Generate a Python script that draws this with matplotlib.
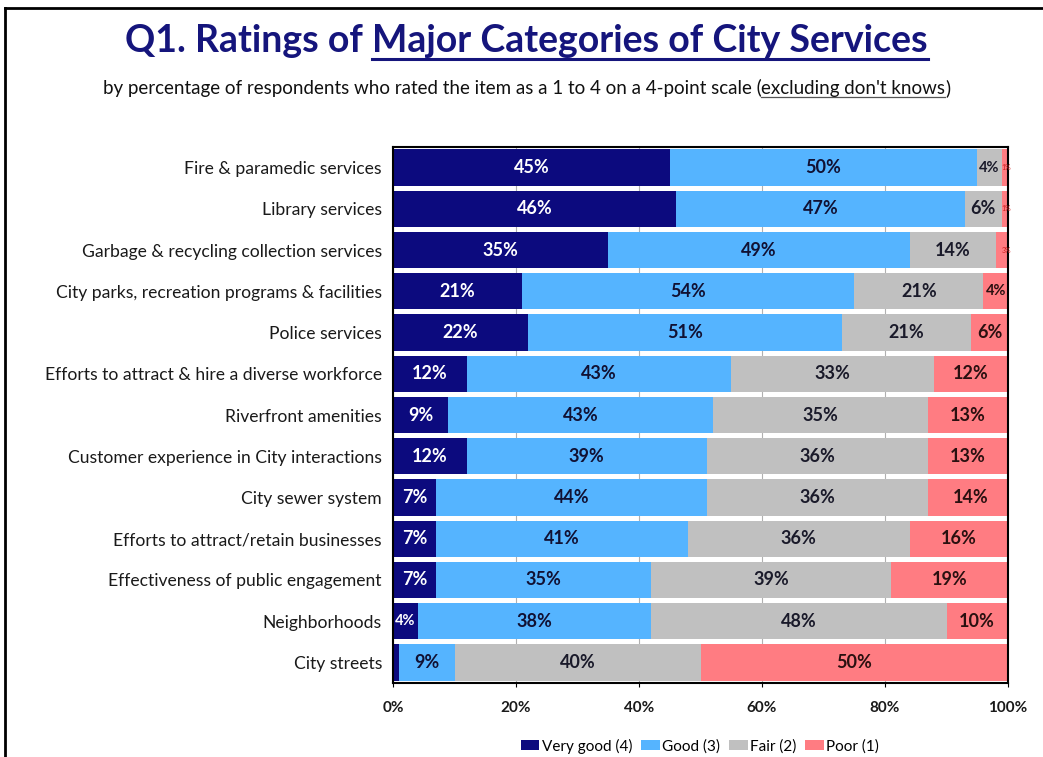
import matplotlib
matplotlib.use("Agg")
import matplotlib.pyplot as plt
import numpy as np
from matplotlib.lines import Line2D

plt.rcParams['font.family'] = ['Lato', 'DejaVu Sans']

categories = [
    "Fire & paramedic services",
    "Library services",
    "Garbage & recycling collection services",
    "City parks, recreation programs & facilities",
    "Police services",
    "Efforts to attract & hire a diverse workforce",
    "Riverfront amenities",
    "Customer experience in City interactions",
    "City sewer system",
    "Efforts to attract/retain businesses",
    "Effectiveness of public engagement",
    "Neighborhoods",
    "City streets",
]
very_good = [45, 46, 35, 21, 22, 12, 9, 12, 7, 7, 7, 4, 1]
good      = [50, 47, 49, 54, 51, 43, 43, 39, 44, 41, 35, 38, 9]
fair      = [4, 6, 14, 21, 21, 33, 35, 36, 36, 36, 39, 48, 40]
poor      = [1, 1, 3, 4, 6, 12, 13, 13, 14, 16, 19, 10, 50]
series_names = ["Very good (4)", "Good (3)", "Fair (2)", "Poor (1)"]
xticks = [0, 20, 40, 60, 80, 100]

colors = ["#0c0a7e", "#55b4ff", "#c0c0c0", "#ff7c82"]
label_colors = ["white", "#111133", "#1a1a2a", "#2a1010"]

W, H = 1043, 757
fig = plt.figure(figsize=(W / 100, H / 100), dpi=100)
ax = fig.add_axes([393 / W, 1 - 683 / H, (1008 - 393) / W, (683 - 147) / H])
ax.set_axisbelow(True)
ax.grid(axis='x', color='#b0b0b0', lw=0.8)
ax.grid(axis='y', visible=False)

y = np.arange(len(categories))
series = [very_good, good, fair, poor]
left = np.zeros(len(categories))
for si, vals in enumerate(series):
    vals = np.array(vals, dtype=float)
    ax.barh(y, vals, left=left, height=0.88, color=colors[si], edgecolor='none',
            label=series_names[si])
    for yi, (l, v) in enumerate(zip(left, vals)):
        if v <= 1 and si == 0:
            continue
        if v <= 3:
            ax.text(l + v / 2 + 0.2, yi, f"{int(v)}%", ha='center', va='center',
                    fontsize=5, color="#d02020")
        elif v <= 4:
            ax.text(l + v / 2, yi, f"{int(v)}%", ha='center', va='center',
                    fontsize=10.5, fontweight='bold', color=label_colors[si])
        else:
            ax.text(l + v / 2, yi, f"{int(v)}%", ha='center', va='center',
                    fontsize=13, fontweight='bold', color=label_colors[si])
    left += vals

ax.set_xlim(0, 100)
ax.set_ylim(len(categories) - 0.5, -0.5)
ax.set_yticks(y)
ax.set_yticklabels(categories, fontsize=12.6, color="#1a1a1a")
ax.tick_params(axis='y', length=0, pad=8)
ax.set_xticks(xticks)
ax.set_xticklabels([f"{t}%" for t in xticks], fontsize=11, fontweight='bold', color="#1a1a1a")
ax.tick_params(axis='x', length=3, pad=10)
for s in ax.spines.values():
    s.set_color('black')
    s.set_linewidth(1.5)

leg = fig.legend(loc='center', bbox_to_anchor=(700 / W, 1 - 746 / H), ncol=4, frameon=False,
                 fontsize=11, handlelength=1.2, handleheight=0.6, handletextpad=0.15,
                 columnspacing=0.6)

fig.canvas.draw()
renderer = fig.canvas.get_renderer()
title_color = "#15157c"

def underlined_line(parts, yc, size, weight, color, ul_color, ul_offset, ul_lw):
    texts = []
    for s, _ in parts:
        t = fig.text(0, yc, s, fontsize=size, fontweight=weight, color=color,
                     ha='left', va='baseline')
        texts.append(t)
    fig.canvas.draw()
    widths = [t.get_window_extent(renderer).width for t in texts]
    total = sum(widths)
    x = (W - total) / 2 + 5
    for t, w, (s, ul) in zip(texts, widths, parts):
        t.set_x(x / W)
        if ul:
            fig.add_artist(Line2D([x / W, (x + w) / W], [yc - ul_offset / H] * 2,
                                  color=ul_color, lw=ul_lw, transform=fig.transFigure))
        x += w

underlined_line([("Q1. Ratings of\u00a0", False), ("Major Categories of City Services", True)],
                1 - 52 / H, 27, 'bold', title_color, title_color, 7, 2.2)
underlined_line([("by percentage of respondents who rated the item as a 1 to 4 on a 4-point scale (", False),
                 ("excluding don't knows", True), (")", False)],
                1 - 94 / H, 13.5, 'normal', "#111111", "#555555", 3, 0.9)

fig.add_artist(Line2D([5 / W, 1], [1 - 8 / H] * 2, color='black', lw=2, transform=fig.transFigure))
fig.add_artist(Line2D([5 / W] * 2, [0, 1 - 8 / H], color='black', lw=2, transform=fig.transFigure))

fig.savefig("out.png", dpi=100)
